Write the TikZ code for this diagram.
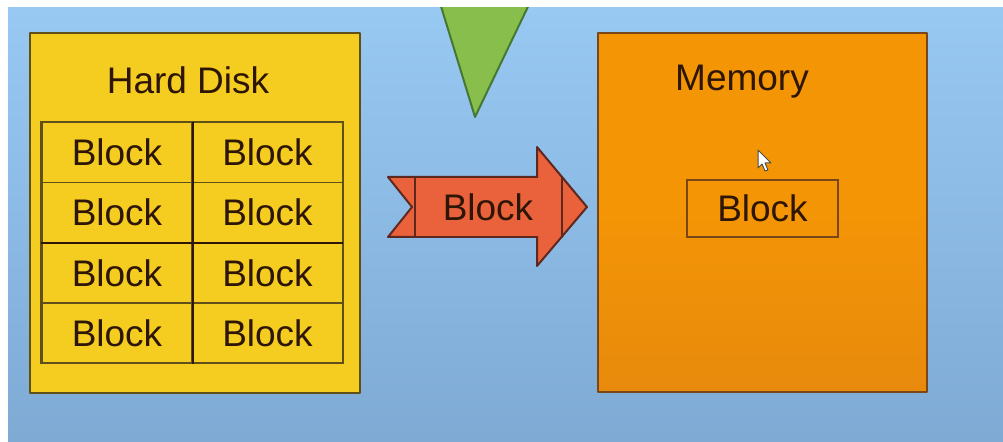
\documentclass[tikz,border=0pt]{standalone}
\usepackage{fontspec}
\setmainfont{Liberation Sans}
\begin{document}
\definecolor{bgtop}{RGB}{152,201,243}
\definecolor{bgbot}{RGB}{126,170,212}
\definecolor{diskfill}{RGB}{245,204,32}
\definecolor{diskline}{RGB}{95,80,25}
\definecolor{memfill}{RGB}{244,149,6}
\definecolor{memfillbot}{RGB}{232,138,12}
\definecolor{memline}{RGB}{120,70,25}
\definecolor{ribbonfill}{RGB}{233,98,60}
\definecolor{ribbonline}{RGB}{95,40,30}
\definecolor{wedgefill}{RGB}{136,190,76}
\definecolor{wedgeline}{RGB}{70,120,50}
\definecolor{ink}{RGB}{45,22,5}
\begin{tikzpicture}[x=1bp,y=-1bp,
  label/.style={font=\fontsize{37bp}{44bp}\selectfont, text=ink, inner sep=0pt},
  cell/.style={draw=diskline, line width=1.5bp, minimum width=150bp, minimum height=60bp,
               inner sep=0pt, font=\fontsize{37bp}{44bp}\selectfont, text=ink},
  outline/.style={line width=2bp, line join=round}]
  % canvas
  \useasboundingbox (0,0) rectangle (1003,442);
  \fill[white] (0,0) rectangle (1003,442);
  \shade[top color=bgtop, bottom color=bgbot] (8,8) rectangle (1003,442);

  % green wedge entering from the top edge
  \begin{scope}
    \clip (8,8) rectangle (1003,442);
    \filldraw[fill=wedgefill, draw=wedgeline, outline] (436,-10) -- (536,-10) -- (475,117) -- cycle;
  \end{scope}

  % hard disk
  \node[draw=diskline, fill=diskfill, outline, minimum width=330bp, minimum height=360bp,
        inner sep=0pt] (disk) at (195,213) {};
  \node[label] (disktitle) at (188,80) {Hard Disk};
  \foreach \r/\y in {1/152.5,2/212.5,3/273,4/333}{
    \node[cell] (c\r a) at (117,\y) {Block};
    \node[cell] (c\r b) at (267.5,\y) {Block};
  }
  \draw[diskline, line width=1.5bp] (c1a.north west) rectangle (c4b.south east);
  \draw[ink, line width=2.5bp] (c2a.south west) -- (c2b.south east);
  \draw[ink, line width=2bp] (c1a.north east) -- (c4a.south east);

  % block moving across: ribbon tail, body and arrow head
  \filldraw[fill=ribbonfill, draw=ribbonline, outline]
    (388,177) -- (562,177) -- (562,237) -- (388,237) -- (412,207) -- cycle;
  \filldraw[fill=ribbonfill, draw=ribbonline, outline]
    (537,147) -- (587,207) -- (537,266) -- cycle;
  \fill[ribbonfill] (415,178) rectangle (561,236);
  \draw[ribbonline, line width=1.5bp] (415,177) -- (415,237);
  \draw[ribbonline, line width=1.5bp] (562,177) -- (562,237);
  \draw[ribbonline, line width=1.5bp] (537,177) -- (537,147);
  \draw[ribbonline, line width=1.5bp] (537,237) -- (537,266);
  \node[label] (moving) at (488,207) {Block};

  % memory
  \shade[top color=memfill, bottom color=memfillbot, middle color=memfill]
    (598,33) rectangle (927,392);
  \node[draw=memline, outline, minimum width=329bp, minimum height=359bp,
        inner sep=0pt] (mem) at (762.5,212.5) {};
  \node[label] (memtitle) at (742,82) {Memory};
  \node[draw=memline, line width=1.5bp, minimum width=151bp, minimum height=57bp,
        inner sep=0pt, font=\fontsize{37bp}{44bp}\selectfont, text=ink] (loaded) at (762.5,208.5) {Block};

  % mouse pointer
  \filldraw[fill=white, draw=black!70, line width=1bp, line join=round]
    (758,150) -- (758,168) -- (762,164) -- (765,171) -- (768,170) -- (765,163) -- (771,163) -- cycle;
\end{tikzpicture}
\end{document}
